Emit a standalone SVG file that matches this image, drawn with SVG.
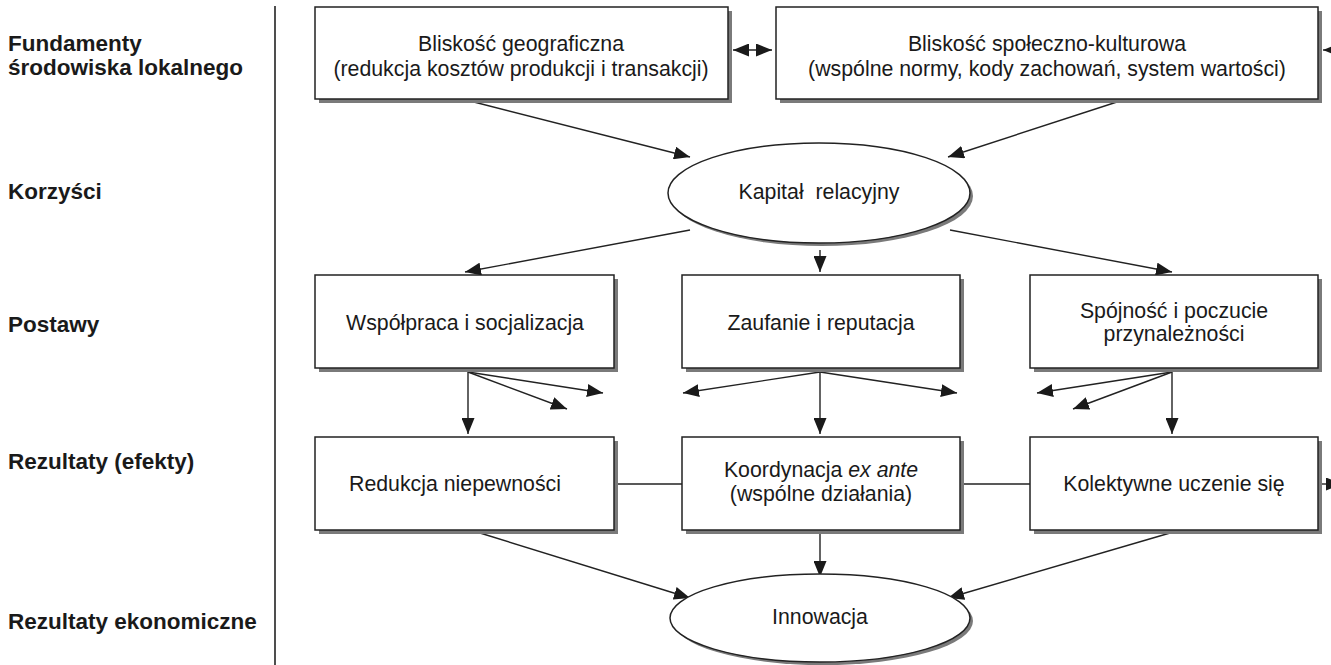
<svg xmlns="http://www.w3.org/2000/svg" width="1331" height="665" viewBox="0 0 1331 665">
<style>
.lbl{font-family:"Liberation Sans",Arial,sans-serif;font-size:22.5px;font-weight:bold;fill:#1a1a1a}
.t{font-family:"Liberation Sans",Arial,sans-serif;font-size:21.3px;fill:#1a1a1a;text-anchor:middle}
.box{fill:#fff;stroke:#222;stroke-width:1.5}
.sh{fill:#7a7a7a}
.c{stroke:#222;stroke-width:1.4;fill:none}
</style>
<defs>
<marker id="ah" viewBox="0 0 16 13" refX="16" refY="6.5" markerWidth="16" markerHeight="13" markerUnits="userSpaceOnUse" orient="auto-start-reverse">
<path d="M0,0 L16,6.5 L0,13 z" fill="#1a1a1a"/>
</marker>
</defs>
<rect width="1331" height="665" fill="#fff"/>
<g id="labels">
<text class="lbl" x="8" y="51">Fundamenty</text>
<text class="lbl" x="8" y="75">środowiska lokalnego</text>
<text class="lbl" x="8" y="199">Korzyści</text>
<text class="lbl" x="8" y="332">Postawy</text>
<text class="lbl" x="8" y="469">Rezultaty (efekty)</text>
<text class="lbl" x="8" y="629">Rezultaty ekonomiczne</text>
</g>
<line x1="275" y1="6" x2="275" y2="665" stroke="#222" stroke-width="1.6"/>
<g id="connectors">
<line class="c" x1="733" y1="50" x2="772" y2="50" marker-start="url(#ah)" marker-end="url(#ah)"/>
<line class="c" x1="1345" y1="50" x2="1323" y2="50" marker-end="url(#ah)"/>
<line class="c" x1="470" y1="101" x2="690" y2="157" marker-end="url(#ah)"/>
<line class="c" x1="1120" y1="101" x2="948" y2="157" marker-end="url(#ah)"/>
<line class="c" x1="690" y1="230" x2="465" y2="272" marker-end="url(#ah)"/>
<line class="c" x1="820" y1="250" x2="820" y2="272" marker-end="url(#ah)"/>
<line class="c" x1="950" y1="230" x2="1172" y2="272" marker-end="url(#ah)"/>
<line class="c" x1="468" y1="372" x2="468" y2="434" marker-end="url(#ah)"/>
<line class="c" x1="468" y1="372" x2="567" y2="409" marker-end="url(#ah)"/>
<line class="c" x1="468" y1="372" x2="603" y2="393" marker-end="url(#ah)"/>
<line class="c" x1="820" y1="372" x2="820" y2="434" marker-end="url(#ah)"/>
<line class="c" x1="820" y1="372" x2="683" y2="393" marker-end="url(#ah)"/>
<line class="c" x1="820" y1="372" x2="957" y2="393" marker-end="url(#ah)"/>
<line class="c" x1="1172" y1="372" x2="1172" y2="434" marker-end="url(#ah)"/>
<line class="c" x1="1172" y1="372" x2="1073" y2="409" marker-end="url(#ah)"/>
<line class="c" x1="1172" y1="372" x2="1037" y2="393" marker-end="url(#ah)"/>
<line class="c" x1="614" y1="484" x2="682" y2="484"/>
<line class="c" x1="960" y1="484" x2="1030" y2="484"/>
<line class="c" x1="1321" y1="484" x2="1342" y2="484" marker-end="url(#ah)"/>
<line class="c" x1="480" y1="533" x2="690" y2="598" marker-end="url(#ah)"/>
<line class="c" x1="820" y1="533" x2="820" y2="577" marker-end="url(#ah)"/>
<line class="c" x1="1170" y1="533" x2="948" y2="598" marker-end="url(#ah)"/>
</g>
<g id="n-geo">
<rect class="sh" x="319" y="11" width="413" height="92"/>
<rect class="box" x="315" y="7" width="413" height="92"/>
<text class="t" x="521" y="51">Bliskość geograficzna</text>
<text class="t" x="521" y="76">(redukcja kosztów produkcji i transakcji)</text>
</g>
<g id="n-spol">
<rect class="sh" x="780" y="11" width="542" height="92"/>
<rect class="box" x="776" y="7" width="542" height="92"/>
<text class="t" x="1047" y="51">Bliskość społeczno-kulturowa</text>
<text class="t" x="1047" y="76">(wspólne normy, kody zachowań, system wartości)</text>
</g>
<g id="n-kapital">
<ellipse cx="822" cy="196" rx="151" ry="50" fill="#7a7a7a"/>
<ellipse cx="819" cy="193" rx="151" ry="50" class="box"/>
<text class="t" x="819" y="199" xml:space="preserve">Kapitał  relacyjny</text>
</g>
<g id="n-wspolpraca">
<rect class="sh" x="319" y="279" width="299" height="93"/>
<rect class="box" x="315" y="275" width="299" height="93"/>
<text class="t" x="465" y="330">Współpraca i socjalizacja</text>
</g>
<g id="n-zaufanie">
<rect class="sh" x="686" y="279" width="278" height="93"/>
<rect class="box" x="682" y="275" width="278" height="93"/>
<text class="t" x="821" y="330">Zaufanie i reputacja</text>
</g>
<g id="n-spojnosc">
<rect class="sh" x="1034" y="279" width="288" height="93"/>
<rect class="box" x="1030" y="275" width="288" height="93"/>
<text class="t" x="1174" y="318">Spójność i poczucie</text>
<text class="t" x="1174" y="341">przynależności</text>
</g>
<g id="n-redukcja">
<rect class="sh" x="319" y="441" width="299" height="93"/>
<rect class="box" x="315" y="437" width="299" height="93"/>
<text class="t" x="455" y="491">Redukcja niepewności</text>
</g>
<g id="n-koordynacja">
<rect class="sh" x="686" y="441" width="278" height="93"/>
<rect class="box" x="682" y="437" width="278" height="93"/>
<text class="t" x="821" y="477">Koordynacja <tspan font-style="italic">ex ante</tspan></text>
<text class="t" x="821" y="501">(wspólne działania)</text>
</g>
<g id="n-kolektywne">
<rect class="sh" x="1034" y="441" width="288" height="93"/>
<rect class="box" x="1030" y="437" width="288" height="93"/>
<text class="t" x="1174" y="491">Kolektywne uczenie się</text>
</g>
<g id="n-innowacja">
<ellipse cx="823" cy="621" rx="150" ry="44" fill="#7a7a7a"/>
<ellipse cx="820" cy="618" rx="150" ry="44" class="box"/>
<text class="t" x="820" y="624">Innowacja</text>
</g>
</svg>
